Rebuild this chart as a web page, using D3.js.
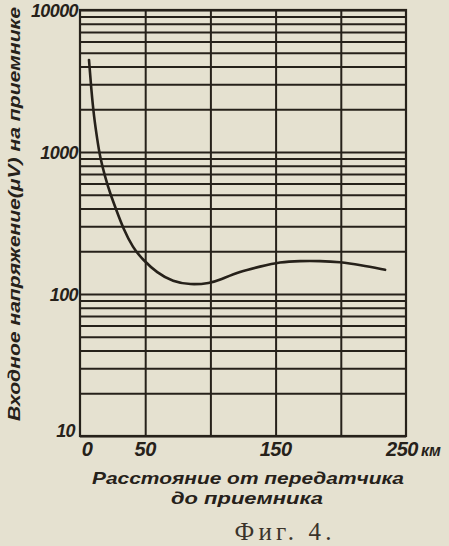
<!DOCTYPE html>
<html>
<head>
<meta charset="utf-8">
<script src="https://cdn.jsdelivr.net/npm/d3@7"></script>
<style>
  html, body { margin: 0; padding: 0; background: #e5e1d0; }
  svg { display: block; }
</style>
</head>
<body>
<script>
// ---- data ----
const distanceKm = [6.9, 8.7, 10.7, 13.3, 15.3, 19.2, 23, 28.1, 33, 40.6, 48.3, 59, 71.3, 84.4, 99.7, 107.4, 122.7, 138, 153.4, 168.7, 184, 199.4, 214.7, 234];
const voltageUV  = [4450, 2735, 1775, 1216, 927, 670, 514, 385, 292, 211, 174, 141, 122, 116, 119, 126, 144, 156, 168, 171, 171, 168, 160, 148];
const xGridValues = [50, 100, 150, 200];
const xTickLabels = [0, 50, 150, 250];
const yTickLabels = [10, 100, 1000, 10000];
const yTitle = "Входное напряжение(μV) на приемнике";
const xTitle1 = "Расстояние от передатчика";
const xTitle2 = "до приемника";
const unitLabel = "км";
const caption = "Фиг. 4.";

// ---- layout ----
const W = 449, H = 546;
const mLeft = 80, mRight = 406, mTop = 10, mBottom = 436;
const ink = "#26211a";

const svg = d3.select("body").append("svg").attr("width", W).attr("height", H);
svg.append("rect").attr("width", W).attr("height", H).attr("fill", "#e5e1d0");

const x = d3.scaleLinear().domain([0, 250]).range([mLeft, mRight]);
const y = d3.scaleLog().domain([10, 10000]).range([mBottom, mTop]);

// horizontal grid (log minor lines)
const gY = svg.append("g").attr("transform", `translate(${mLeft},0)`)
  .call(d3.axisLeft(y).tickValues(y.ticks()).tickSize(-(mRight - mLeft)).tickFormat(""));
gY.select(".domain").remove();
gY.selectAll("line").attr("stroke", ink).attr("stroke-width", 2);

// vertical grid
const gX = svg.append("g").attr("transform", `translate(0,${mBottom})`)
  .call(d3.axisBottom(x).tickValues(xGridValues).tickSize(-(mBottom - mTop)).tickFormat(""));
gX.select(".domain").remove();
gX.selectAll("line").attr("stroke", ink).attr("stroke-width", 2);

// frame
svg.append("rect").attr("x", mLeft).attr("y", mTop)
  .attr("width", mRight - mLeft).attr("height", mBottom - mTop)
  .attr("fill", "none").attr("stroke", ink).attr("stroke-width", 2.2);

// curve
const pts = distanceKm.map((d, i) => [d, voltageUV[i]]);
svg.append("path").datum(pts)
  .attr("fill", "none").attr("stroke", ink).attr("stroke-width", 2.6)
  .attr("stroke-linecap", "round")
  .attr("d", d3.line().x(d => x(d[0])).y(d => y(d[1])).curve(d3.curveBasis));

const labelFont = "'Liberation Sans', Arial, sans-serif";

// y tick labels
svg.append("g").selectAll("text").data(yTickLabels).join("text")
  .attr("x", d => d === 10 ? mLeft - 5 : mLeft - 2)
  .attr("y", d => d === 10 ? y(d) + 1 : y(d) + 7)
  .attr("text-anchor", "end")
  .attr("font-family", labelFont).attr("font-weight", "bold").attr("font-style", "italic")
  .attr("font-size", 18).attr("fill", ink)
  .attr("letter-spacing", "-0.6")
  .text(d => d);

// x tick labels
svg.append("g").selectAll("text").data(xTickLabels).join("text")
  .attr("x", d => d === 0 ? x(d) + 7 : (d === 250 ? x(d) - 4 : x(d)))
  .attr("y", 456)
  .attr("text-anchor", "middle")
  .attr("font-family", labelFont).attr("font-weight", "bold").attr("font-style", "italic")
  .attr("font-size", 20).attr("fill", ink)
  .attr("letter-spacing", "-0.5")
  .text(d => d);
svg.append("text").attr("x", 421).attr("y", 456)
  .attr("font-family", labelFont).attr("font-weight", "bold").attr("font-style", "italic")
  .attr("font-size", 16).attr("fill", ink).text(unitLabel);

// x title
svg.append("text").attr("x", 248).attr("y", 484).attr("text-anchor", "middle")
  .attr("font-family", labelFont).attr("font-weight", "bold").attr("font-style", "italic")
  .attr("font-size", 17).attr("fill", ink)
  .attr("textLength", 312).attr("lengthAdjust", "spacingAndGlyphs")
  .text(xTitle1);
svg.append("text").attr("x", 247).attr("y", 504).attr("text-anchor", "middle")
  .attr("font-family", labelFont).attr("font-weight", "bold").attr("font-style", "italic")
  .attr("font-size", 17).attr("fill", ink)
  .attr("textLength", 152).attr("lengthAdjust", "spacingAndGlyphs")
  .text(xTitle2);

// y title
svg.append("text")
  .attr("transform", "translate(20,214) rotate(-90)")
  .attr("text-anchor", "middle")
  .attr("font-family", labelFont).attr("font-weight", "bold").attr("font-style", "italic")
  .attr("font-size", 16).attr("fill", ink)
  .attr("textLength", 414).attr("lengthAdjust", "spacingAndGlyphs")
  .text(yTitle);

// caption
svg.append("text").attr("x", 283).attr("y", 540).attr("text-anchor", "middle")
  .attr("font-family", "'Liberation Serif', 'DejaVu Serif', serif")
  .attr("font-size", 25).attr("fill", "#3a342b")
  .attr("textLength", 97).attr("lengthAdjust", "spacing")
  .text(caption);
</script>
</body>
</html>
